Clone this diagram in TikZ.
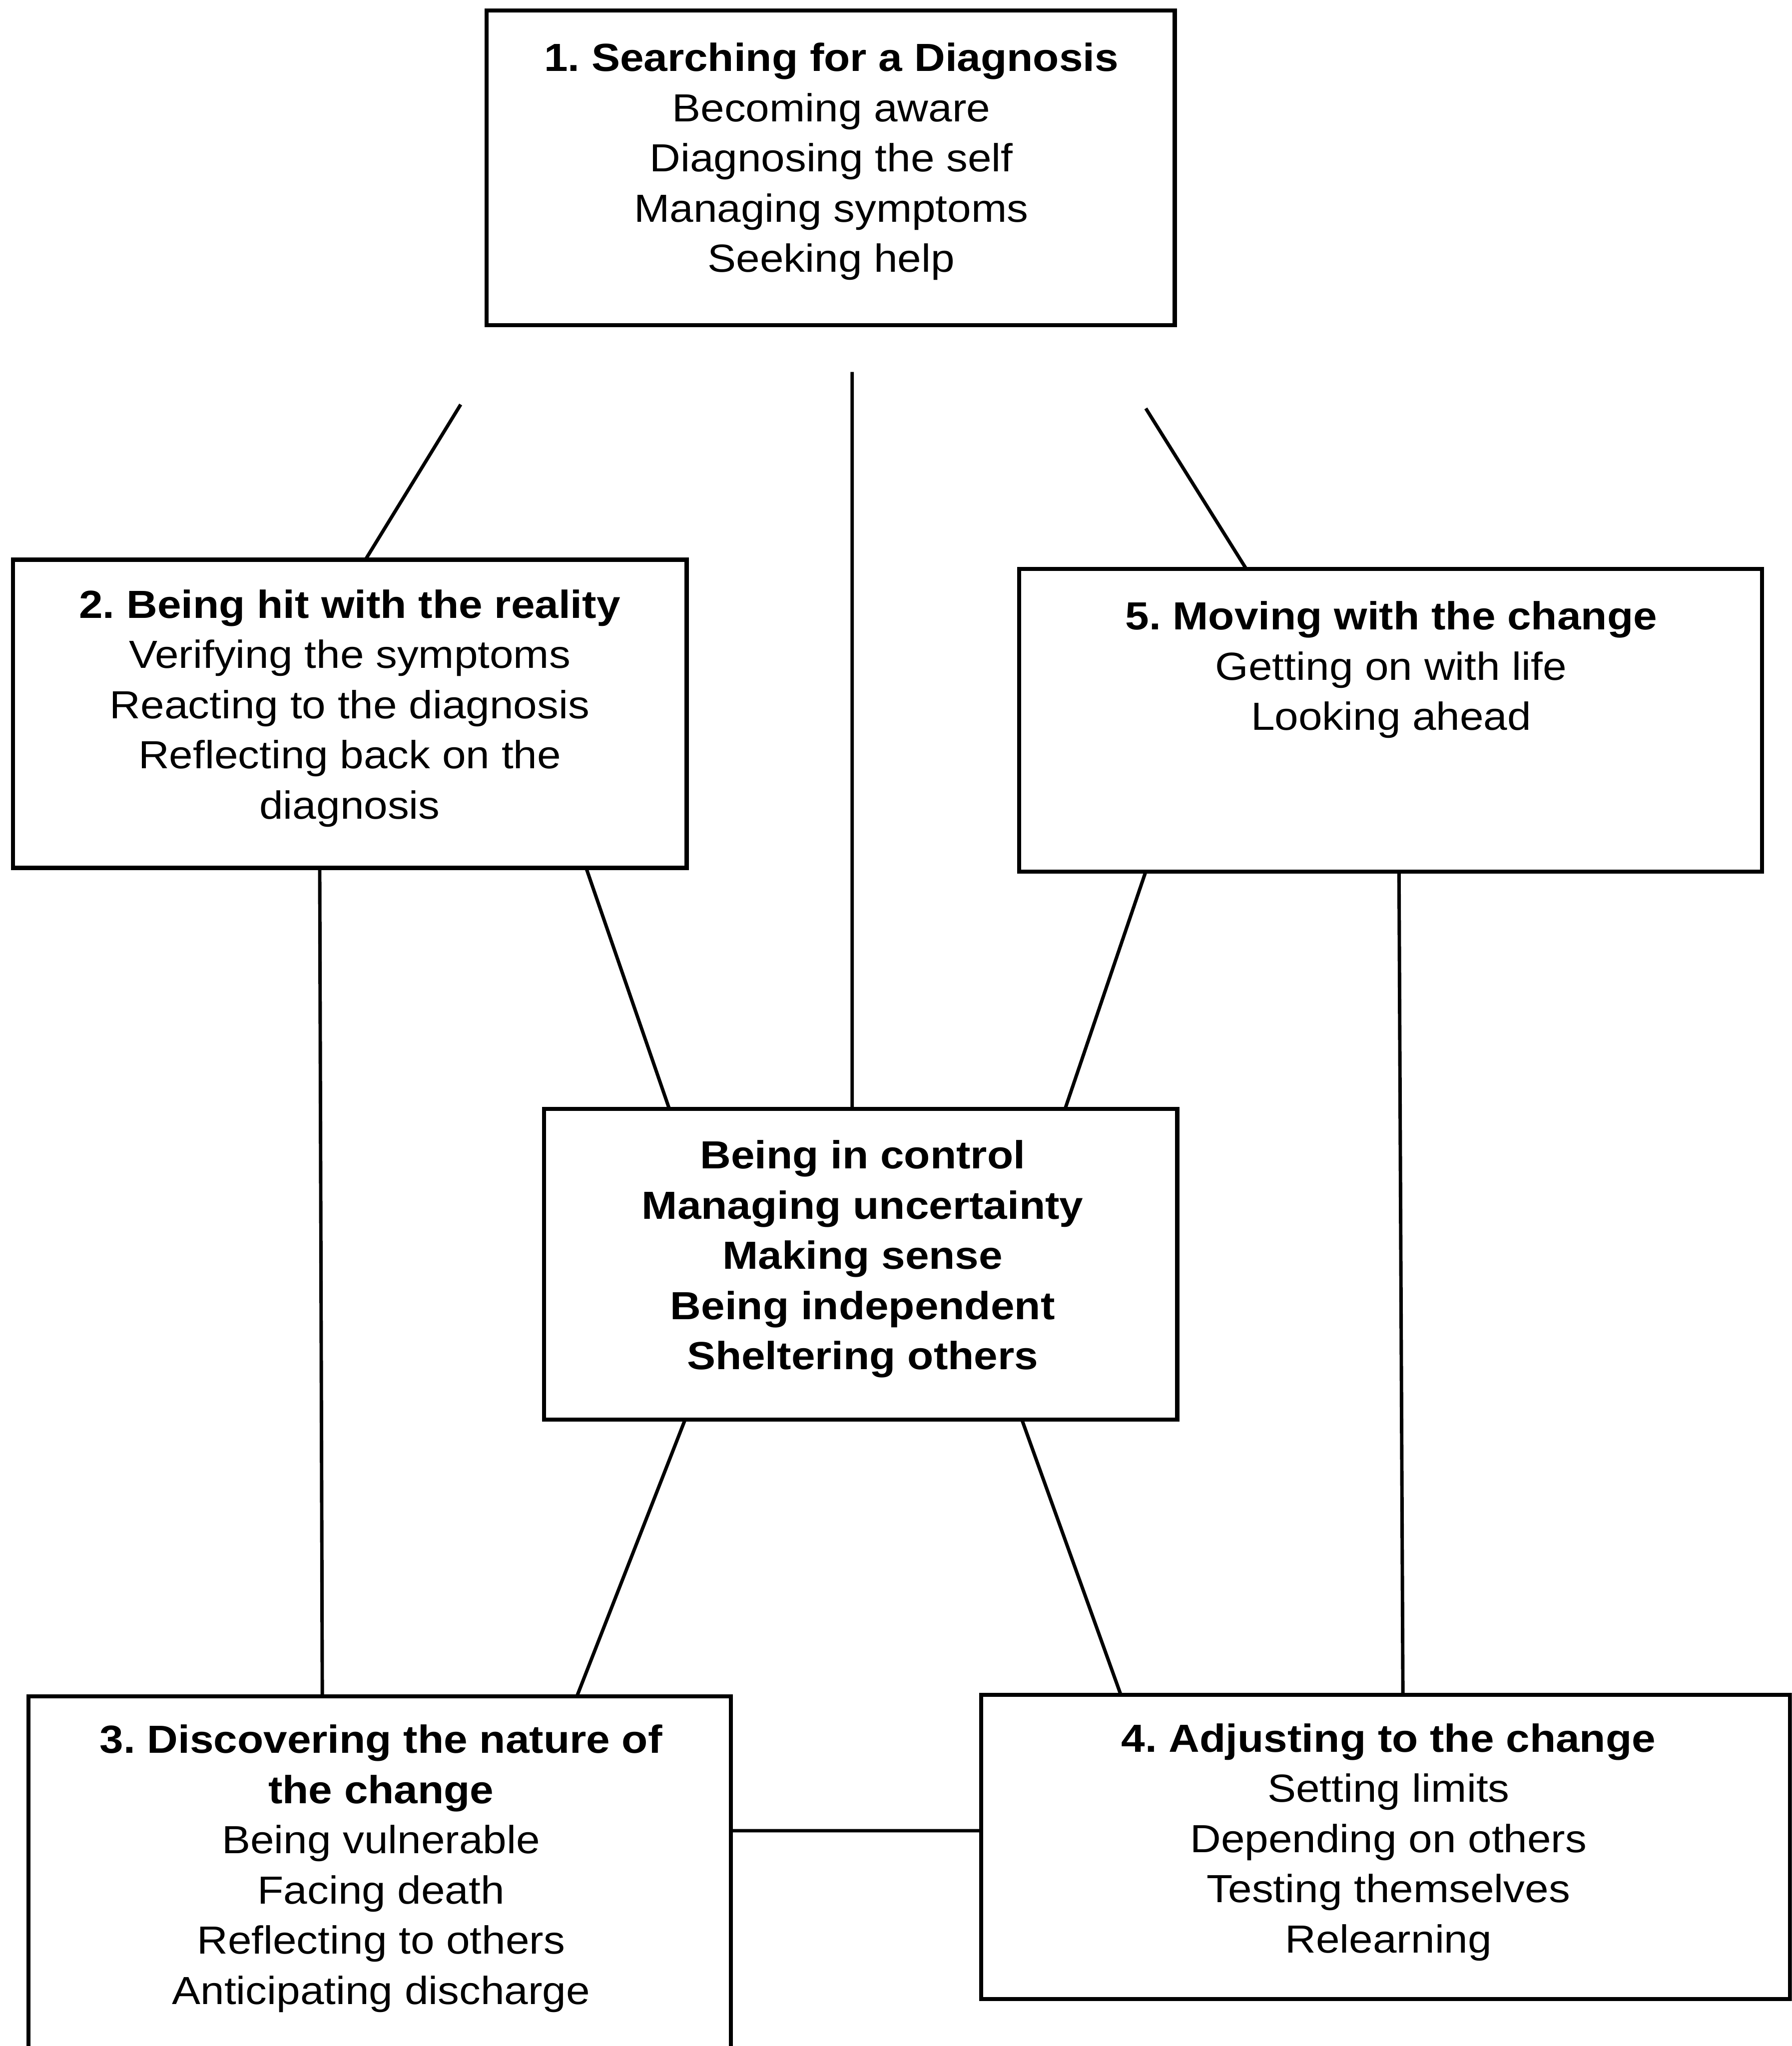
\documentclass[tikz,border=0pt]{standalone}
\usepackage{fontspec}
\setmainfont{Liberation Sans}[FakeStretch=1.09]
\frenchspacing
\tikzset{
  box/.style={draw, line width=0.9pt, inner sep=0pt, outer sep=0pt},
  txt/.style={align=center, inner sep=0pt, anchor=north, font=\fontsize{8.54pt}{10.94pt}\selectfont},
  conn/.style={line width=0.75pt}
}
\begin{document}
\begin{tikzpicture}[x=0.01cm,y=-0.01cm]
\useasboundingbox (0,0) rectangle (1373,1568);
\fill[white] (0,0) rectangle (1373,1568);
\clip (0,0) rectangle (1373,1568);

% boxes
\node[box, minimum width=5.27cm, minimum height=2.41cm] (b1) at (636.5,128.5) {};
\node[box, minimum width=5.16cm, minimum height=2.36cm] (b2) at (268,547) {};
\node[box, minimum width=5.69cm, minimum height=2.32cm] (b5) at (1065.5,552) {};
\node[box, minimum width=4.85cm, minimum height=2.38cm] (bc) at (659.5,969) {};
\node[box, minimum width=5.38cm, minimum height=3.00cm] (b3) at (291,1450) {};
\node[box, minimum width=6.195cm, minimum height=2.33cm] (b4) at (1061.75,1415.5) {};

% texts
\node[txt] (b1t) at (637,27) {\strut\textbf{1. Searching for a Diagnosis}\\Becoming aware\\Diagnosing the self\\Managing symptoms\\Seeking help};
\node[txt] (b2t) at (268,446) {\strut\textbf{2. Being hit with the reality}\\Verifying the symptoms\\Reacting to the diagnosis\\Reflecting back on the\\diagnosis};
\node[txt] (b5t) at (1066,455) {\strut\textbf{5. Moving with the change}\\Getting on with life\\Looking ahead};
\node[txt, font=\fontsize{8.54pt}{10.94pt}\selectfont\bfseries] (bct) at (661,868) {\strut Being in control\\Managing uncertainty\\Making sense\\Being independent\\Sheltering others};
\node[txt] (b3t) at (292,1316) {\strut\textbf{3. Discovering the nature of}\\\textbf{the change}\\Being vulnerable\\Facing death\\Reflecting to others\\Anticipating discharge};
\node[txt] (b4t) at (1064,1315) {\strut\textbf{4. Adjusting to the change}\\Setting limits\\Depending on others\\Testing themselves\\Relearning};

% free ends
\coordinate (p1) at (353,310);
\coordinate (p2) at (653,285);
\coordinate (p3) at (878,313);

% connectors
\draw[conn] (p1) -- ([xshift=0.12cm]b2.north);
\draw[conn] (p2) -- ([xshift=-0.065cm]bc.north);
\draw[conn] (p3) -- ([xshift=-1.105cm]b5.north);
\draw[conn] ([xshift=-0.23cm]b2.south) -- ([xshift=-0.44cm]b3.north);
\draw[conn] ([xshift=1.81cm]b2.south) -- ([xshift=-1.465cm]bc.north);
\draw[conn] ([xshift=-1.875cm]b5.south) -- ([xshift=1.565cm]bc.north);
\draw[conn] ([xshift=0.065cm]b5.south) -- ([xshift=0.1325cm]b4.north);
\draw[conn] ([xshift=-1.345cm]bc.south) -- ([xshift=1.51cm]b3.north);
\draw[conn] ([xshift=1.235cm]bc.south) -- ([xshift=-2.0275cm]b4.north);
\draw[conn] ([yshift=0.47cm]b3.east) -- ([yshift=0.125cm]b4.west);
\end{tikzpicture}
\end{document}
